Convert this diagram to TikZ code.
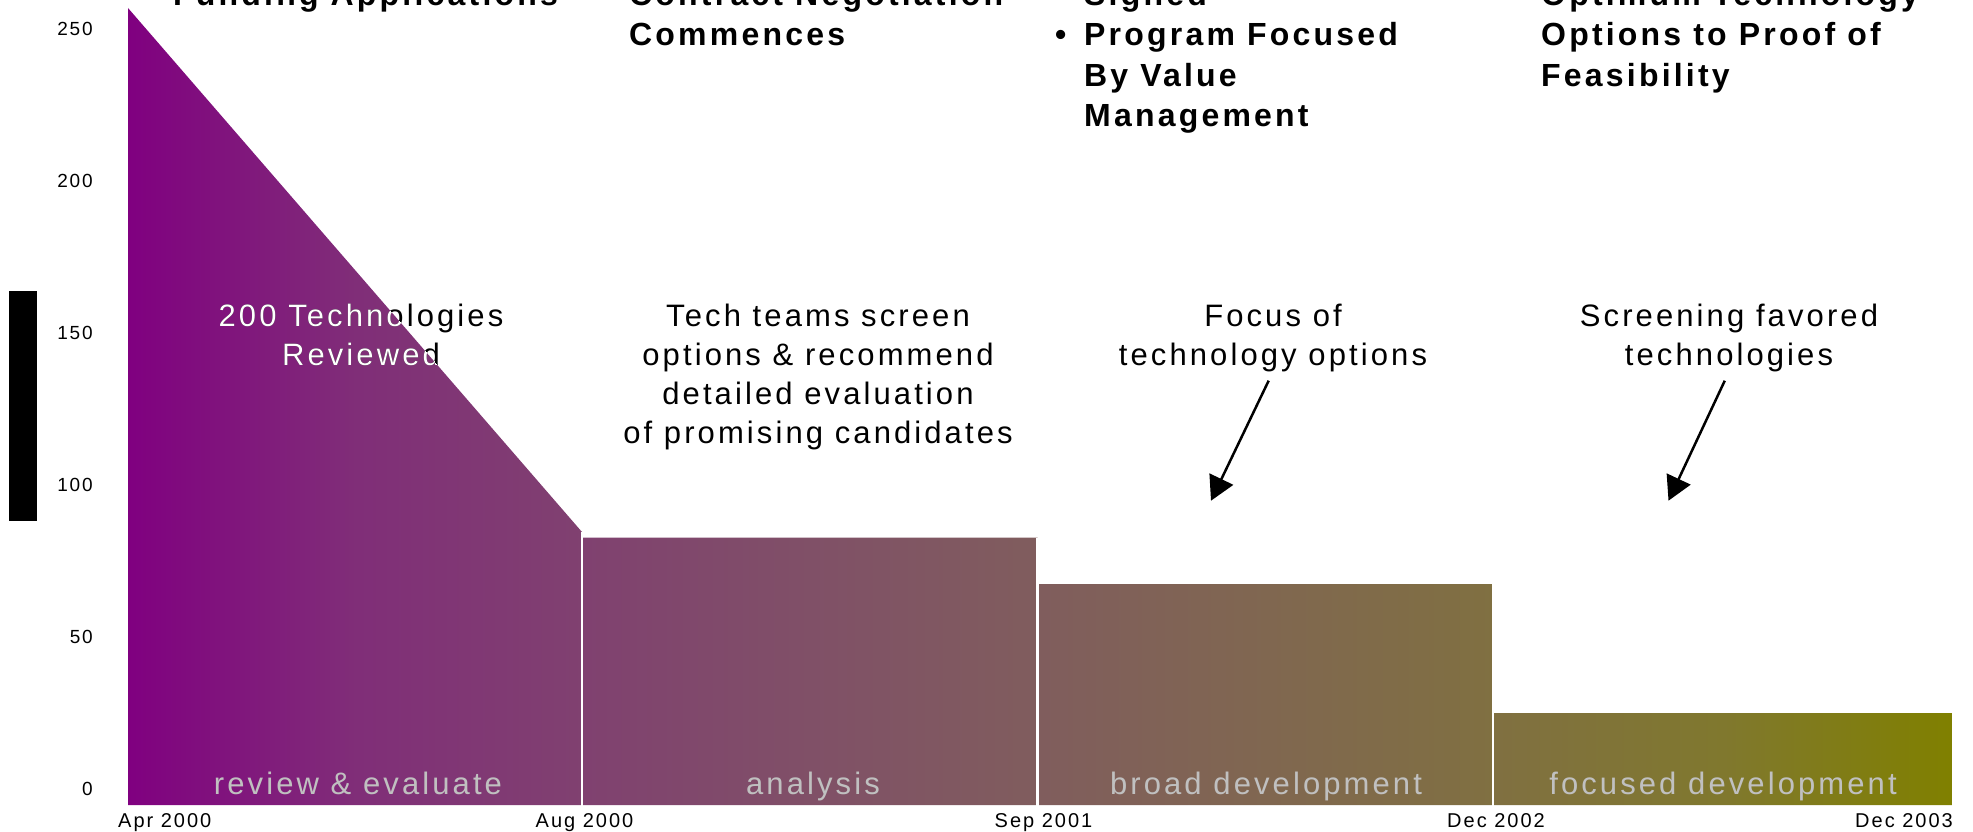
\documentclass[tikz,border=0pt]{standalone}
\usepackage{fontspec}
\setmainfont{Liberation Sans}
\newfontfamily\headfont[LetterSpace=10]{Liberation Sans}
\newfontfamily\notefont[LetterSpace=10]{Liberation Sans}
\usetikzlibrary{arrows.meta}
\definecolor{phaselabel}{RGB}{192,192,192}
\pgfdeclarehorizontalshading{phasefade}{100bp}{rgb(0bp)=(0.502,0,0.502); rgb(25bp)=(0.502,0,0.502);
  rgb(31.25bp)=(0.502,0.180,0.471); rgb(37.5bp)=(0.502,0.255,0.439); rgb(43.75bp)=(0.502,0.314,0.404);
  rgb(50bp)=(0.502,0.365,0.365); rgb(56.25bp)=(0.502,0.404,0.314); rgb(62.5bp)=(0.502,0.439,0.255);
  rgb(68.75bp)=(0.502,0.471,0.180); rgb(75bp)=(0.502,0.502,0); rgb(100bp)=(0.502,0.502,0)}

\begin{document}
\begin{tikzpicture}[x=1pt,y=-1pt,
  head/.style={anchor=base west,align=left,inner sep=0pt,font=\headfont\bfseries\fontsize{32}{40.5}\selectfont},
  note/.style={anchor=base,align=center,inner sep=0pt,font=\notefont\fontsize{31}{39}\selectfont},
  phase/.style={anchor=base,inner sep=0pt,text=phaselabel,font=\notefont\fontsize{31}{36}\selectfont},
  tick/.style={anchor=base east,inner sep=0pt,font=\notefont\fontsize{19}{20}\selectfont},
  date/.style={anchor=base,inner sep=0pt,font=\notefont\fontsize{20}{22}\selectfont},
  pointer/.style={line width=2.5pt,shorten <=10pt,-{Triangle[length=24pt,width=26pt]}}]
\path[use as bounding box,clip] (0,0) rectangle (1973,832);

\shade[shading=phasefade] (128,805) -- (128,8) -- (582,532) -- (582,537.5)
  -- (1037.5,537.5) -- (1037.5,584) -- (1493,584) -- (1493,713) -- (1952,713) -- (1952,805) -- cycle;
\foreach \x/\top in {582/532,1037.5/537.5,1493/584}
  \draw[white,line width=2.5pt] (\x,\top) -- (\x,806);
\fill (9,291) rectangle (37,521);

\foreach \v in {0,50,...,250}
  \node[tick] (tick\v) at (93,{795-3.036*\v}) {\v};
\node[date,anchor=base west] (apr2000) at (118,827) {Apr 2000};
\node[date] (aug2000) at (584.5,827) {Aug 2000};
\node[date] (sep2001) at (1043.5,827) {Sep 2001};
\node[date] (dec2002) at (1496,827) {Dec 2002};
\node[date,anchor=base east] (dec2003) at (1953,827) {Dec 2003};

\node[phase] (review) at (358,794) {review \& evaluate};
\node[phase] (analysis) at (813,794) {analysis};
\node[phase] (broad) at (1266,794) {broad development};
\node[phase] (focused) at (1723,794) {focused development};

\node[head] (funding) at (173,6) {\llap{\textbullet\hspace{18pt}}Funding Applications};
\node[head] (contract) at (629,46) {\llap{\textbullet\hspace{18pt}}Contract Negotiation\\Commences};
\node[head] (signed) at (1084,127) {Signed\\\llap{\textbullet\hspace{18pt}}Program Focused\\By Value\\Management};
\node[head] (optimum) at (1541,86.5) {Optimum Technology\\Options to Proof of\\Feasibility};

\node[note] (reviewed) at (361,365.7) {200 Technologies\\Reviewed};
\begin{scope}
  \clip (128,805) -- (128,8) -- (582,532) -- (582,805) -- cycle;
  \node[note,text=white] (reviewedw) at (reviewed.base) {200 Technologies\\Reviewed};
\end{scope}
\node[note] (screen) at (818,443.7) {Tech teams screen\\options \& recommend\\detailed evaluation\\of promising candidates};
\node[note] (focus) at (1273,365) {Focus of\\technology options};
\node[note] (favored) at (1729,365) {Screening favored\\technologies};

\coordinate (focustip) at (1211,500.7);
\coordinate (favoredtip) at (1668.5,500.7);
\draw[pointer] (focus.south) -- (focustip);
\draw[pointer] (favored.south) -- (favoredtip);
\end{tikzpicture}
\end{document}
